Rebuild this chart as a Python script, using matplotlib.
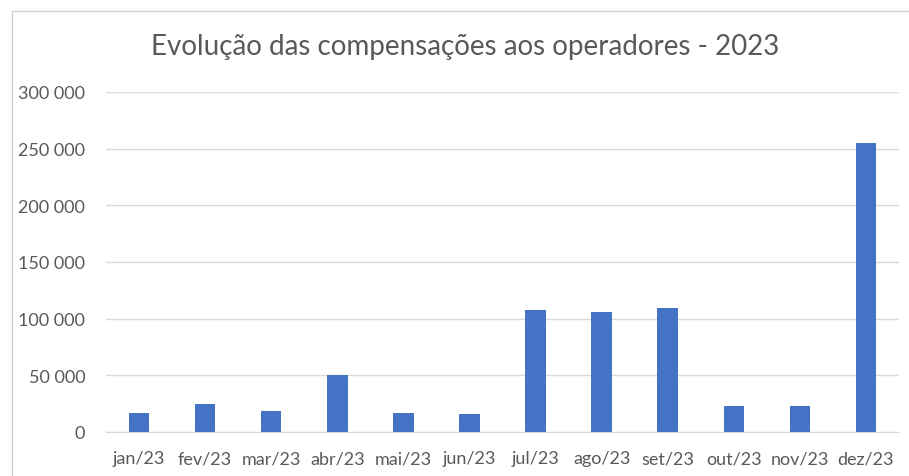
import matplotlib.pyplot as plt
from matplotlib.patches import Rectangle
from matplotlib.ticker import FuncFormatter

meses = ['jan/23', 'fev/23', 'mar/23', 'abr/23', 'mai/23', 'jun/23',
         'jul/23', 'ago/23', 'set/23', 'out/23', 'nov/23', 'dez/23']
valores = [17000, 25000, 18600, 50000, 17000, 16200,
           107600, 105800, 109400, 23300, 23300, 255000]
titulo = 'Evolução das compensações aos operadores - 2023'

plt.rcParams['font.family'] = ['Lato', 'DejaVu Sans']

fig = plt.figure(figsize=(9.09, 4.77), dpi=100)
ax = fig.add_axes([106/909, 1 - 433/477, (899 - 106)/909, (433 - 93)/477])

x = range(len(meses))
ax.bar(x, valores, width=0.31, color='#4472C4', zorder=3)

ax.set_xlim(-0.5, len(meses) - 0.5)
ax.set_ylim(0, 300000)
ax.set_yticks(range(0, 300001, 50000))
ax.yaxis.set_major_formatter(FuncFormatter(lambda v, p: f'{int(v):,}'.replace(',', ' ')))
ax.set_xticks(list(x))
ax.set_xticklabels(meses)
ax.grid(axis='y', color='#d9d9d9', linewidth=1, zorder=0)
for s in ['top', 'right', 'left']:
    ax.spines[s].set_visible(False)
ax.spines['bottom'].set_color('#d9d9d9')
ax.tick_params(axis='both', length=0, labelsize=13, labelcolor='#595959')
ax.tick_params(axis='y', pad=15)
ax.tick_params(axis='x', pad=13)

fig.text(465/909, 1 - 47/477, titulo, ha='center', va='center',
         fontsize=20, color='#595959')

# moldura do grafico
fig.patches.append(Rectangle((12/909, -0.1), 1.2, 1 - 12/477 + 0.1,
                             transform=fig.transFigure, fill=False,
                             edgecolor='#d0d0d0', linewidth=1))

fig.savefig('out.png', dpi=100, facecolor='white')
